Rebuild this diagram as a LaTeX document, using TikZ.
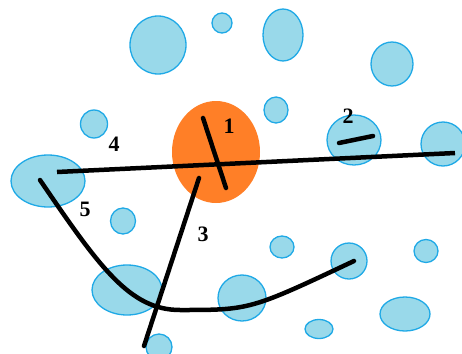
\documentclass[tikz,border=0pt]{standalone}
\usepackage{fontspec}
\setmainfont{Liberation Serif}
\usepackage{xcolor}
\usepackage{tikz}
\usetikzlibrary{arrows.meta,positioning,calc}
\definecolor{bubblefill}{HTML}{99D9EA}
\definecolor{bubbleedge}{HTML}{1FA9E6}
\definecolor{coreorange}{HTML}{FF7F27}
\tikzset{
  bubble/.style={
    fill=bubblefill, draw=bubbleedge, line width=1.3pt
  },
  core/.style={
    fill=coreorange, draw=none
  },
  track/.style={
    draw=black, line width=4.5pt, line cap=round
  },
  tracknum/.style={
    font=\fontsize{22}{22}\selectfont\bfseries, inner sep=0pt
  },
}

\begin{document}
\begin{tikzpicture}[x=1pt, y=-1pt]
  \useasboundingbox (0,0) rectangle (462,353);

  % ── bubbles ──
  \foreach \cx/\cy/\rx/\ry in {158/45/28/29, 222/23/10/10, 94/124/13.5/14,
      48/181/37/26, 283/35/20/26, 392/64/21/22, 276/110/12/13,
      354/140/27/25, 443/144/22/22, 123/221/12.5/13, 127/290/35/25,
      159/347/13/13, 242/298/24/23, 282/247/12/11, 349/261/18/18,
      426/251/12/11.5, 405/314/25/17, 319/329/14/9.5}
    \path[bubble] (\cx,\cy) ellipse [x radius=\rx, y radius=\ry];

  % ── central blob ──
  \path[core] (216,152) ellipse [x radius=44, y radius=51];

  % ── track end points ──
  \coordinate (t1a) at (203,118);
  \coordinate (t1b) at (226,188);
  \coordinate (t2a) at (339,143);
  \coordinate (t2b) at (373,136);
  \coordinate (t3a) at (199,178);
  \coordinate (t3b) at (144,346);
  \coordinate (t4a) at (57,172);
  \coordinate (t4b) at (455,153);
  \coordinate (t5a) at (40,180);
  \coordinate (t5m) at (180,310);
  \coordinate (t5b) at (354,261);

  \draw[track, line cap=butt] (t4a) -- (t4b);
  \draw[track] (t1a) -- (t1b);
  \draw[track] (t2a) -- (t2b);
  \draw[track] (t3a) -- (t3b);
  \draw[track] (t5a) .. controls (100,268) and (130,310) .. (t5m)
                     .. controls (250,310) .. (t5b);

  % ── numbers ──
  \node[tracknum] (n1) at (229,126) {1};
  \node[tracknum] (n2) at (348,116) {2};
  \node[tracknum] (n3) at (203,234) {3};
  \node[tracknum] (n4) at (114,144) {4};
  \node[tracknum] (n5) at (85,209) {5};
\end{tikzpicture}
\end{document}
